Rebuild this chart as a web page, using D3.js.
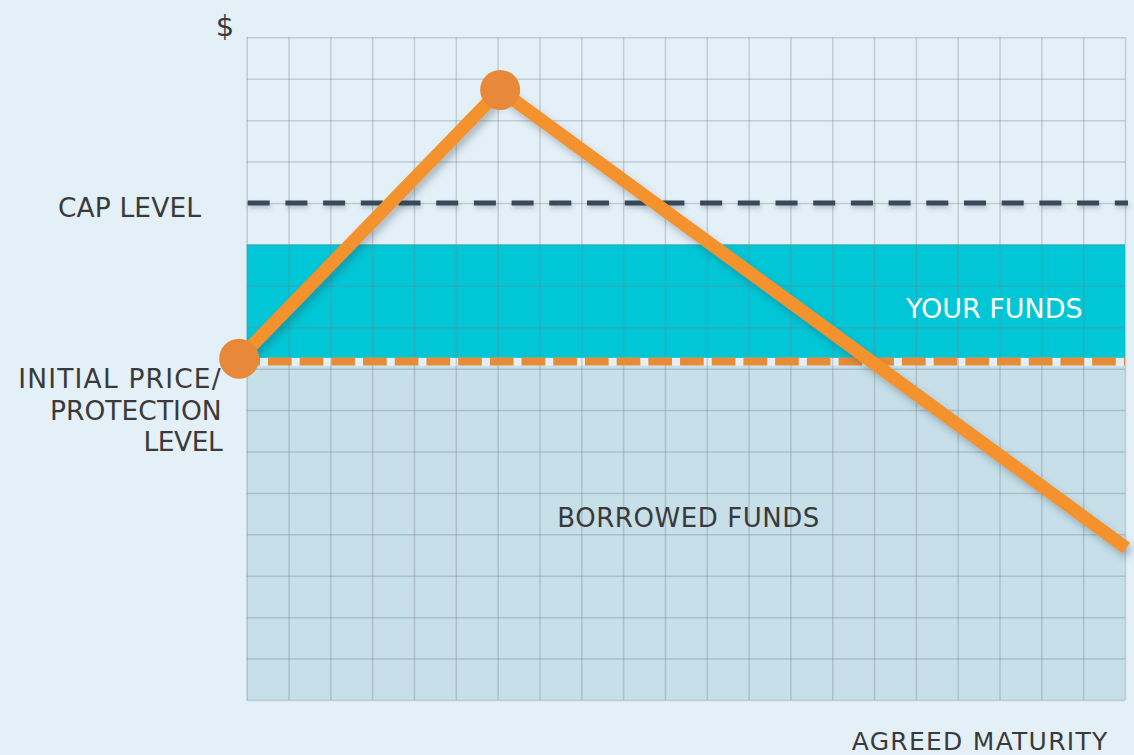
<!DOCTYPE html>
<html>
<head>
<meta charset="utf-8">
<script src="https://cdn.jsdelivr.net/npm/d3@7"></script>
<style>
  html, body { margin: 0; padding: 0; background: #e4f0f7; }
  svg { display: block; font-family: "DejaVu Sans", Verdana, sans-serif; }
</style>
</head>
<body>
<svg id="chart" width="1134" height="755"></svg>
<script>
// ---- data ----
const gridColumns = d3.range(0, 22);          // time grid (0..21)
const gridRows = d3.range(0, 17);             // value grid (0..16)
const capLevel = 12;
const protectionLevel = 8.17;
const yourFundsBand = [8.26, 11];
const borrowedFundsBand = [0, 8.07];
const priceX = [-0.18, 6.06, 21.03];
const priceY = [8.24, 14.73, 3.67];
const markerIdx = [0, 1];
const axisLabels = ["$", "AGREED MATURITY"];
const levelLabels = ["CAP LEVEL", "INITIAL PRICE/", "PROTECTION", "LEVEL"];
const bandLabels = ["YOUR FUNDS", "BORROWED FUNDS"];

// ---- layout ----
const svg = d3.select("#chart");
const pLeft = 246.7, pRight = 1125, pTop = 37.3, pBottom = 700;
const x = d3.scaleLinear().domain([0, 21]).range([pLeft, pRight]);
const y = d3.scaleLinear().domain([0, 16]).range([pBottom, pTop]);

const defs = svg.append("defs");
const sh = defs.append("filter").attr("id", "shadow")
  .attr("filterUnits", "userSpaceOnUse")
  .attr("x", 0).attr("y", 0).attr("width", 1134).attr("height", 755);
sh.append("feDropShadow").attr("dx", 3).attr("dy", 5).attr("stdDeviation", 3.5)
  .attr("flood-color", "#2a3f50").attr("flood-opacity", 0.3);
const sh2 = defs.append("filter").attr("id", "shadow2")
  .attr("filterUnits", "userSpaceOnUse")
  .attr("x", 0).attr("y", 0).attr("width", 1134).attr("height", 755);
sh2.append("feDropShadow").attr("dx", 1).attr("dy", 3).attr("stdDeviation", 2)
  .attr("flood-color", "#2a3f50").attr("flood-opacity", 0.25);

// bands
svg.append("rect")
  .attr("x", x(0)).attr("width", x(21) - x(0))
  .attr("y", y(borrowedFundsBand[1])).attr("height", y(borrowedFundsBand[0]) - y(borrowedFundsBand[1]))
  .attr("fill", "#c6dfe9");
svg.append("rect")
  .attr("x", x(0)).attr("width", x(21) - x(0))
  .attr("y", y(yourFundsBand[1])).attr("height", y(yourFundsBand[0]) - y(yourFundsBand[1]))
  .attr("fill", "#00c6d6");

// grid via axes
const gridColor = "rgba(120,128,136,0.32)";
const gx = svg.append("g").attr("transform", `translate(0,${pBottom})`)
  .call(d3.axisBottom(x).tickValues(gridColumns).tickSize(-(pBottom - pTop)).tickFormat(""));
gx.select(".domain").remove();
gx.selectAll(".tick line").attr("stroke", gridColor).attr("stroke-width", 1.5);
const gy = svg.append("g").attr("transform", `translate(${pLeft},0)`)
  .call(d3.axisLeft(y).tickValues(gridRows).tickSize(-(pRight - pLeft)).tickFormat(""));
gy.select(".domain").remove();
gy.selectAll(".tick line").attr("stroke", gridColor).attr("stroke-width", 1.5);

// cap dashed line
svg.append("line")
  .attr("x1", x(0) + 1).attr("x2", x(21) + 3)
  .attr("y1", y(capLevel)).attr("y2", y(capLevel))
  .attr("stroke", "#37495a").attr("stroke-width", 5)
  .attr("stroke-dasharray", "22,15.7")
  .attr("filter", "url(#shadow2)");

// protection dashed line
svg.append("line")
  .attr("x1", x(-0.25)).attr("x2", x(21))
  .attr("y1", y(protectionLevel)).attr("y2", y(protectionLevel))
  .attr("stroke", "#e88b36").attr("stroke-width", 8)
  .attr("stroke-dasharray", "23.7,8");

// price path
const pts = priceX.map((d, i) => [d, priceY[i]]);
svg.append("path")
  .datum(pts)
  .attr("d", d3.line().x(d => x(d[0])).y(d => y(d[1])))
  .attr("fill", "none").attr("stroke", "#f4922f").attr("stroke-width", 13)
  .attr("stroke-linejoin", "round").attr("stroke-linecap", "butt")
  .attr("filter", "url(#shadow)");
svg.selectAll("circle.m").data(markerIdx).enter().append("circle")
  .attr("class", "m")
  .attr("cx", i => x(priceX[i])).attr("cy", i => y(priceY[i]))
  .attr("r", 20).attr("fill", "#e8893a");

// labels
const txt = "#3a3a3a";
svg.append("text").text(axisLabels[0]).attr("x", 225).attr("y", 36)
  .attr("text-anchor", "middle").attr("font-size", 29).attr("fill", txt);
svg.append("text").text(axisLabels[1]).attr("x", 851.7).attr("y", 750)
  .attr("font-size", 25).attr("fill", txt)
  .attr("textLength", 255.6).attr("lengthAdjust", "spacing");

const lvl = [
  {t: levelLabels[0], xr: 201, yb: 216.7, w: 143},
  {t: levelLabels[1], xr: 220.7, yb: 388.3, w: 202.4},
  {t: levelLabels[2], xr: 221.7, yb: 419.8, w: 171.7},
  {t: levelLabels[3], xr: 222.7, yb: 450.7, w: 79.3}
];
lvl.forEach(d => {
  svg.append("text").text(d.t).attr("x", d.xr - d.w).attr("y", d.yb)
    .attr("font-size", 26.5).attr("fill", txt)
    .attr("textLength", d.w).attr("lengthAdjust", "spacing");
});

svg.append("text").text(bandLabels[0]).attr("x", 906).attr("y", 318.3)
  .attr("font-size", 27).attr("fill", "#ffffff")
  .attr("textLength", 176.7).attr("lengthAdjust", "spacing");
svg.append("text").text(bandLabels[1]).attr("x", 557.3).attr("y", 527.3)
  .attr("font-size", 26).attr("fill", txt)
  .attr("textLength", 262).attr("lengthAdjust", "spacing");
</script>
</body>
</html>
